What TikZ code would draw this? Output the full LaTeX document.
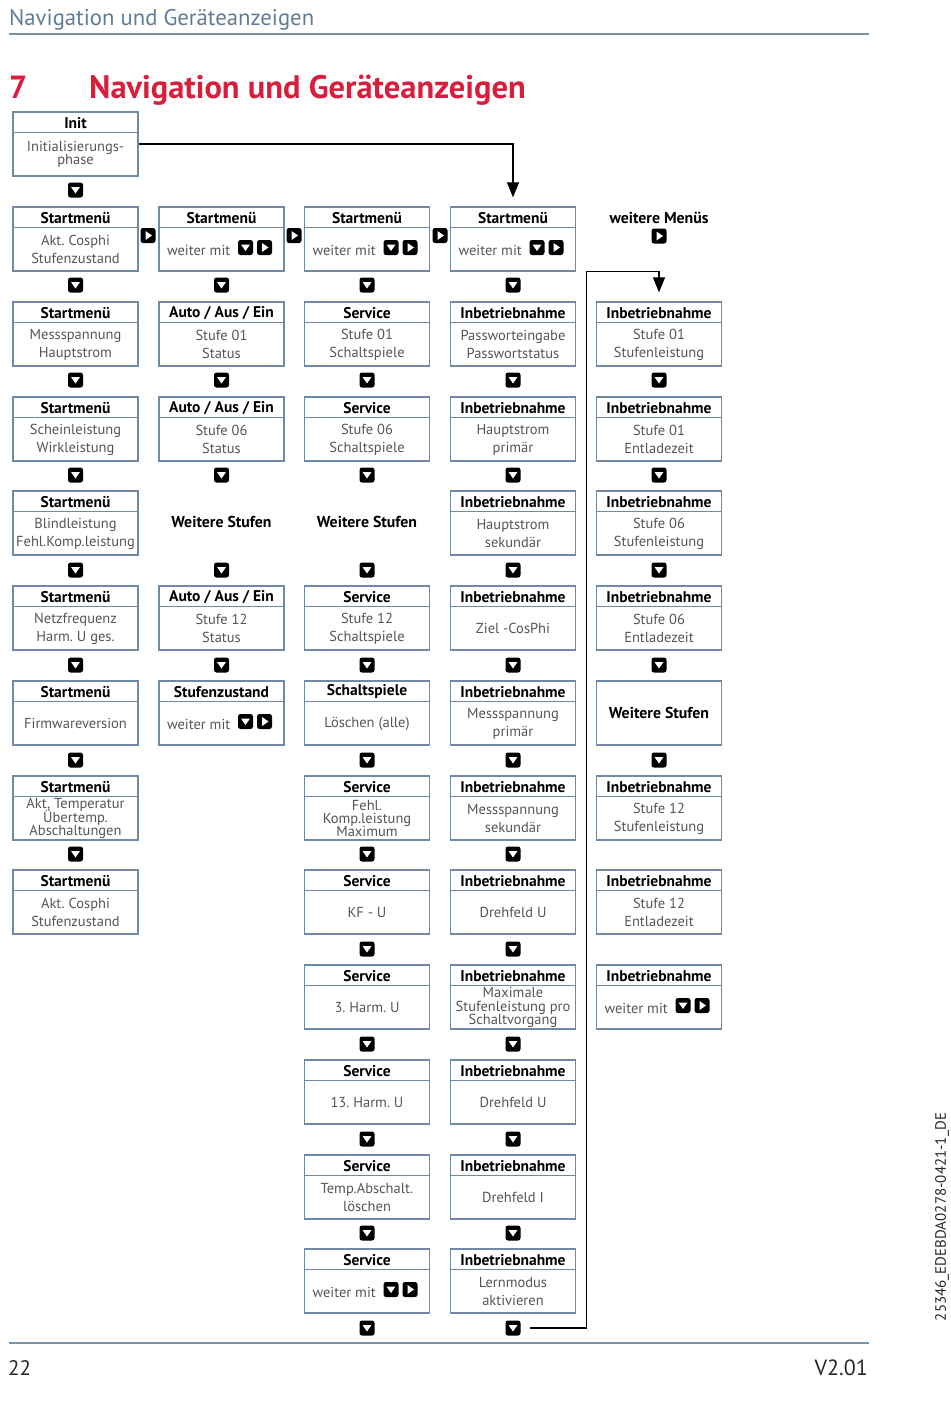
\documentclass[tikz,border=0pt]{standalone}
\usepackage{fontspec}
\setmainfont{PT Sans}
\frenchspacing
\usetikzlibrary{arrows.meta}
\definecolor{boxblue}{HTML}{7089A6}
\definecolor{hdrblue}{HTML}{5E7C98}
\definecolor{bodygray}{HTML}{555555}
\definecolor{titlered}{HTML}{D81E3C}
\definecolor{rulegray}{HTML}{7A92A6}
\newcommand{\tightlines}{\fontsize{14.5}{13.3}\selectfont\lineskiplimit=-20pt\relax\lineskip=0pt\relax}
\tikzset{
 frame/.style={draw=boxblue, line width=1.3pt, minimum width=125pt, minimum height=64pt, inner sep=0pt},
 frameline/.style={draw=boxblue, line width=1.3pt},
 titletext/.style={font=\fontsize{15.5}{17}\selectfont\bfseries, text=black, inner sep=0pt},
 bodytext/.style={font=\fontsize{14.5}{18}\selectfont, text=bodygray, align=center, inner sep=0pt},
 tight/.style={font=\tightlines},
 boldlabel/.style={font=\fontsize{15.8}{18}\selectfont\bfseries, text=black, inner sep=0pt},
 iconbase/.style={fill=black, rounded corners=2.5pt, minimum size=15pt, inner sep=0pt},
 dicon/.style={iconbase, path picture={\fill[white,sharp corners] ([shift={(-4.5pt,3pt)}]path picture bounding box.center) -- ++(9pt,0pt) -- ++(-4.5pt,-6.5pt) -- cycle;}},
 ricon/.style={iconbase, path picture={\fill[white,sharp corners] ([shift={(-2.5pt,4.5pt)}]path picture bounding box.center) -- ++(0pt,-9pt) -- ++(6.5pt,4.5pt) -- cycle;}},
 conn/.style={draw=black, line width=1.2pt},
 arrowconn/.style={conn, -{Triangle[width=12pt,length=15pt]}},
}
% #1 extra body style, #2 name, #3 x centre, #4 y top, #5 title, #6 body
\newcommand{\navbox}[6][]{%
  \node[frame] (#2) at (#3,#4+32) {};
  \draw[frameline] ([yshift=-21pt]#2.north west) -- ([yshift=-21pt]#2.north east);
  \node[titletext] (#2-t) at (#3,#4+11) {#5};
  \node[bodytext,#1] (#2-b) at (#3,#4+42.5) {#6};
}
% name, x, ytop, title
\newcommand{\navweiter}[4]{%
  \node[frame] (#1) at (#2,#3+32) {};
  \draw[frameline] ([yshift=-21pt]#1.north west) -- ([yshift=-21pt]#1.north east);
  \node[titletext] (#1-t) at (#2,#3+11) {#4};
  \node[bodytext, anchor=base east] (#1-w) at (#2+9,#3+48) {weiter mit};
  \node[dicon] (#1-d) at (#2+24,#3+40.5) {};
  \node[ricon] (#1-r) at (#2+43,#3+40.5) {};
}
\begin{document}
\begin{tikzpicture}[x=1pt,y=-1pt]
\useasboundingbox (0,0) rectangle (950,1402);
% header
\node[anchor=base west, inner sep=0pt, text=hdrblue, font=\fontsize{22.7}{26}\selectfont] (hdr) at (9,26) {Navigation und Geräteanzeigen};
\draw[draw=rulegray, line width=1.5pt] (9,34) coordinate (hl) -- (869,34) coordinate (hr);
\node[anchor=base west, inner sep=0pt, text=titlered, font=\fontsize{32}{36}\selectfont\bfseries] (num) at (9,98.5) {7};
\node[anchor=base west, inner sep=0pt, text=titlered, font=\fontsize{32.5}{36}\selectfont\bfseries] (ttl) at (89,98.5) {Navigation und Geräteanzeigen};

% column 1
\navbox[tight]{init}{75.5}{112}{Init}{Initialisierungs-\\phase}
\node[dicon] (i1a) at (75.5,190) {};
\navbox{c1r1}{75.5}{207}{Startmenü}{Akt. Cosphi\\Stufenzustand}
\node[dicon] (i1b) at (75.5,285) {};
\navbox{c1r2}{75.5}{302}{Startmenü}{Messspannung\\Hauptstrom}
\node[dicon] (i1c) at (75.5,380) {};
\navbox{c1r3}{75.5}{397}{Startmenü}{Scheinleistung\\Wirkleistung}
\node[dicon] (i1d) at (75.5,475) {};
\navbox{c1r4}{75.5}{491}{Startmenü}{Blindleistung\\Fehl.Komp.leistung}
\node[dicon] (i1e) at (75.5,570) {};
\navbox{c1r5}{75.5}{586}{Startmenü}{Netzfrequenz\\Harm. U ges.}
\node[dicon] (i1f) at (75.5,665) {};
\navbox{c1r6}{75.5}{681}{Startmenü}{Firmwareversion}
\node[dicon] (i1g) at (75.5,760) {};
\navbox[tight]{c1r7}{75.5}{776}{Startmenü}{Akt, Temperatur\\Übertemp.\\Abschaltungen}
\node[dicon] (i1h) at (75.5,854) {};
\navbox{c1r8}{75.5}{870}{Startmenü}{Akt. Cosphi\\Stufenzustand}

% right arrows row 1
\node[ricon] (r12) at (148,235.5) {};
\node[ricon] (r23) at (294,235.5) {};
\node[ricon] (r34) at (440,235.5) {};

% column 2
\navweiter{c2r1}{221.5}{207}{Startmenü}
\node[dicon] (i2b) at (221.5,285) {};
\navbox{c2r2}{221.5}{302}{Auto / Aus / Ein}{Stufe 01\\Status}
\node[dicon] (i2c) at (221.5,380) {};
\navbox{c2r3}{221.5}{397}{Auto / Aus / Ein}{Stufe 06\\Status}
\node[dicon] (i2d) at (221.5,475) {};
\node[boldlabel] (c2r4) at (221.5,522) {Weitere Stufen};
\node[dicon] (i2e) at (221.5,570) {};
\navbox{c2r5}{221.5}{586}{Auto / Aus / Ein}{Stufe 12\\Status}
\node[dicon] (i2f) at (221.5,665) {};
\navweiter{c2r6}{221.5}{681}{Stufenzustand}

% column 3
\navweiter{c3r1}{367}{207}{Startmenü}
\node[dicon] (i3b) at (367,285) {};
\navbox{c3r2}{367}{302}{Service}{Stufe 01\\Schaltspiele}
\node[dicon] (i3c) at (367,380) {};
\navbox{c3r3}{367}{397}{Service}{Stufe 06\\Schaltspiele}
\node[dicon] (i3d) at (367,475) {};
\node[boldlabel] (c3r4) at (367,522) {Weitere Stufen};
\node[dicon] (i3e) at (367,570) {};
\navbox{c3r5}{367}{586}{Service}{Stufe 12\\Schaltspiele}
\node[dicon] (i3f) at (367,665) {};
\navbox{c3r6}{367}{681}{Schaltspiele}{Löschen (alle)}
\node[dicon] (i3g) at (367,760) {};
\navbox[tight]{c3r7}{367}{776}{Service}{Fehl.\\Komp.leistung\\Maximum}
\node[dicon] (i3h) at (367,854) {};
\navbox{c3r8}{367}{870}{Service}{KF - U}
\node[dicon] (i3i) at (367,949) {};
\navbox{c3r9}{367}{965}{Service}{3. Harm. U}
\node[dicon] (i3j) at (367,1044) {};
\navbox{c3r10}{367}{1060}{Service}{13. Harm. U}
\node[dicon] (i3k) at (367,1139) {};
\navbox{c3r11}{367}{1155}{Service}{Temp.Abschalt.\\löschen}
\node[dicon] (i3l) at (367,1233) {};
\navweiter{c3r12}{367}{1249}{Service}
\node[dicon] (i3m) at (367,1328) {};

% column 4
\navweiter{c4r1}{513}{207}{Startmenü}
\node[dicon] (i4b) at (513,285) {};
\navbox{c4r2}{513}{302}{Inbetriebnahme}{Passworteingabe\\Passwortstatus}
\node[dicon] (i4c) at (513,380) {};
\navbox{c4r3}{513}{397}{Inbetriebnahme}{Hauptstrom\\primär}
\node[dicon] (i4d) at (513,475) {};
\navbox{c4r4}{513}{491}{Inbetriebnahme}{Hauptstrom\\sekundär}
\node[dicon] (i4e) at (513,570) {};
\navbox{c4r5}{513}{586}{Inbetriebnahme}{Ziel -CosPhi}
\node[dicon] (i4f) at (513,665) {};
\navbox{c4r6}{513}{681}{Inbetriebnahme}{Messspannung\\primär}
\node[dicon] (i4g) at (513,760) {};
\navbox{c4r7}{513}{776}{Inbetriebnahme}{Messspannung\\sekundär}
\node[dicon] (i4h) at (513,854) {};
\navbox{c4r8}{513}{870}{Inbetriebnahme}{Drehfeld U}
\node[dicon] (i4i) at (513,949) {};
\navbox[tight]{c4r9}{513}{965}{Inbetriebnahme}{Maximale\\Stufenleistung pro\\Schaltvorgang}
\node[dicon] (i4j) at (513,1044) {};
\navbox{c4r10}{513}{1060}{Inbetriebnahme}{Drehfeld U}
\node[dicon] (i4k) at (513,1139) {};
\navbox{c4r11}{513}{1155}{Inbetriebnahme}{Drehfeld I}
\node[dicon] (i4l) at (513,1233) {};
\navbox{c4r12}{513}{1249}{Inbetriebnahme}{Lernmodus\\aktivieren}
\node[dicon] (i4m) at (513,1328) {};

% column 5
\node[boldlabel] (wm) at (659,218) {weitere Menüs};
\node[ricon] (wmr) at (659,236) {};
\navbox{c5r2}{659}{302}{Inbetriebnahme}{Stufe 01\\Stufenleistung}
\node[dicon] (i5c) at (659,380) {};
\navbox{c5r3}{659}{397}{Inbetriebnahme}{Stufe 01\\Entladezeit}
\node[dicon] (i5d) at (659,475) {};
\navbox{c5r4}{659}{491}{Inbetriebnahme}{Stufe 06\\Stufenleistung}
\node[dicon] (i5e) at (659,570) {};
\navbox{c5r5}{659}{586}{Inbetriebnahme}{Stufe 06\\Entladezeit}
\node[dicon] (i5f) at (659,665) {};
\node[frame] (c5r6) at (659,713) {};
\node[boldlabel] (c5r6-t) at (659,713) {Weitere Stufen};
\node[dicon] (i5g) at (659,760) {};
\navbox{c5r7}{659}{776}{Inbetriebnahme}{Stufe 12\\Stufenleistung}
\navbox{c5r8}{659}{870}{Inbetriebnahme}{Stufe 12\\Entladezeit}
\navweiter{c5r9}{659}{965}{Inbetriebnahme}

% connectors
\draw[arrowconn, shorten >=9pt] (init.east) -| (c4r1.north);
\coordinate (loopc) at (586.5,271.5);
\draw[arrowconn, shorten >=9pt] ([xshift=9.5pt]i4m.east) -- (i4m.east -| loopc) -- (loopc) -| (c5r2.north);

% footer
\draw[draw=rulegray, line width=1.5pt] (9,1343) coordinate (fl) -- (869,1343) coordinate (fr);
\node[anchor=base west, inner sep=0pt, font=\fontsize{21}{24}\selectfont, text=black!85] (pg) at (8,1375) {22};
\node[anchor=base east, inner sep=0pt, font=\fontsize{22}{24}\selectfont, text=black!85] (ver) at (868,1375) {V2.01};
\node[rotate=90, inner sep=0pt, font=\fontsize{15}{17}\selectfont, text=black!85] (docid) at (942,1217) {25346\_EDEBDA0278-0421-1\_DE};
\end{tikzpicture}
\end{document}
